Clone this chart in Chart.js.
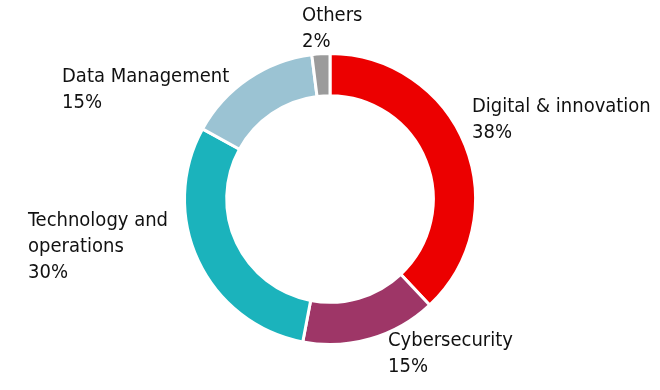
<!DOCTYPE html>
<html>
<head>
<meta charset="utf-8">
<script src="https://cdn.jsdelivr.net/npm/chart.js@4.4.0/dist/chart.umd.min.js"></script>
<style>
  html, body { margin: 0; padding: 0; background: #fff; }
  #wrap { width: 660px; height: 390px; position: relative; }
</style>
</head>
<body>
<div id="wrap"><canvas id="chart"></canvas></div>
<script>
// Data
const categories = ['Digital & innovation', 'Cybersecurity', 'Technology and operations', 'Data Management', 'Others'];
const shares = [38, 15, 30, 15, 2];
const colors = ['#ec0000', '#9e3667', '#1bb3bc', '#9bc3d3', '#9b9b9b'];

// label text lines, and where each block starts (left x, first line centre y)
const labelLines = [
    ['Digital & innovation'],
    ['Cybersecurity'],
    ['Technology and', 'operations'],
    ['Data Management'],
    ['Others']
];
const labelPos = [[472, 107], [388, 341], [28, 221], [62, 77], [302, 16]];

const FONT = '20px "DejaVu Sans Condensed", "DejaVu Sans", sans-serif';
const LINE_H = 26;

// draws the outside labels
const sliceLabels = {
    id: 'sliceLabels',
    afterDraw(chart) {
        const ctx = chart.ctx;
        ctx.save();
        ctx.font = FONT;
        ctx.fillStyle = '#111';
        ctx.textAlign = 'left';
        ctx.textBaseline = 'middle';
        chart.data.datasets[0].data.forEach((v, i) => {
            const lines = labelLines[i].concat([v + '%']);
            lines.forEach((t, j) => {
                ctx.fillText(t, labelPos[i][0], labelPos[i][1] + j * LINE_H);
            });
        });
        ctx.restore();
    }
};

document.addEventListener('DOMContentLoaded', function() {
    const ctx = document.getElementById('chart').getContext('2d');
    new Chart(ctx, {
        type: 'doughnut',
        data: {
            labels: categories,
            datasets: [{
                data: shares,
                backgroundColor: colors,
                borderColor: '#ffffff',
                borderWidth: 3
            }]
        },
        options: {
            responsive: true,
            maintainAspectRatio: false,
            animation: false,
            cutout: '71%',
            layout: {
                padding: { top: 52, bottom: 44, left: 0, right: 0 }
            },
            plugins: {
                legend: { display: false },
                tooltip: { enabled: false }
            }
        },
        plugins: [sliceLabels]
    });
});
</script>
</body>
</html>
